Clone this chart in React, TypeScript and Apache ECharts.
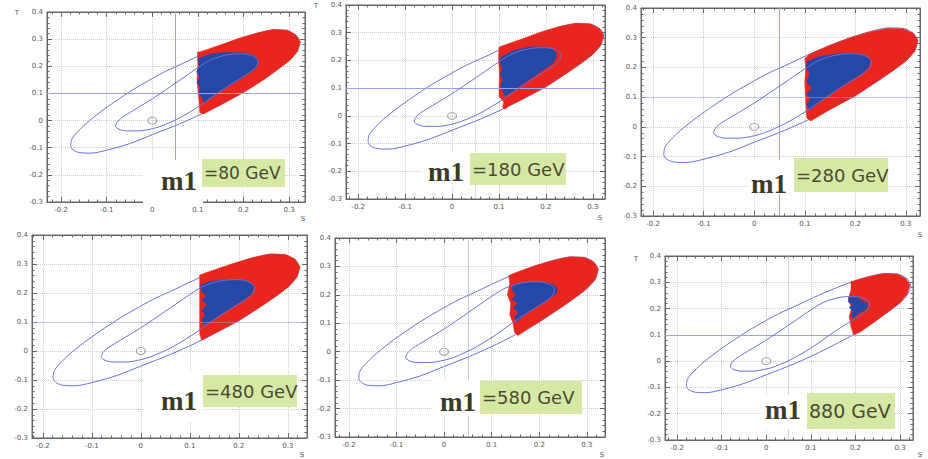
import React, { useEffect, useRef } from "react";
import * as echarts from "echarts";

// ---------- data ----------
const sTickValues = [-0.2, -0.1, 0, 0.1, 0.2, 0.3];
const tMin = -0.3;
const tMax = 0.4;
const tStep = 0.1;

const massPrefix = "m1";
const massLabels = ["=80 GeV", "=180 GeV", "=280 GeV", "=480 GeV", "=580 GeV", "880 GeV"];

// outer (95% CL) contour in the S-T plane
const outerContour: number[][] = [
  [-0.179, -0.095], [-0.177, -0.07], [-0.166, -0.045], [-0.146, -0.012], [-0.115, 0.03],
  [-0.08, 0.072], [-0.042, 0.114], [0.0, 0.155], [0.031, 0.183], [0.07, 0.213],
  [0.106, 0.242], [0.15, 0.274], [0.19, 0.3], [0.23, 0.321], [0.265, 0.333],
  [0.295, 0.331], [0.315, 0.314], [0.323, 0.29], [0.317, 0.255], [0.3, 0.222],
  [0.275, 0.19], [0.245, 0.155], [0.2, 0.105], [0.15, 0.06], [0.11, 0.026],
  [0.06, -0.012], [0.0, -0.052], [-0.05, -0.085], [-0.1, -0.109], [-0.135, -0.12],
  [-0.16, -0.118], [-0.174, -0.108], [-0.179, -0.095],
];

// inner (68% CL) contour
const innerContour: number[][] = [
  [-0.081, -0.022], [-0.077, -0.005], [-0.066, 0.012], [-0.042, 0.037], [0.0, 0.08],
  [0.031, 0.115], [0.07, 0.16], [0.1, 0.195], [0.13, 0.225], [0.17, 0.244],
  [0.2, 0.246], [0.222, 0.237], [0.232, 0.221], [0.229, 0.2], [0.217, 0.181],
  [0.19, 0.152], [0.16, 0.12], [0.13, 0.085], [0.104, 0.054], [0.06, 0.01],
  [0.02, -0.02], [0.0, -0.03], [-0.03, -0.038], [-0.057, -0.038], [-0.073, -0.032],
  [-0.081, -0.022],
];

const smPoint: number[][] = [[0, 0]];
const centralS = 0.05;
const centralT = 0.1;

// allowed model points (red) for each m1
const redRegion80: number[][] = [
  [0.099, 0.252], [0.106, 0.254], [0.15, 0.279], [0.19, 0.303], [0.23, 0.323], [0.265, 0.336],
  [0.295, 0.334], [0.315, 0.316], [0.325, 0.29], [0.319, 0.255], [0.302, 0.222], [0.277, 0.19],
  [0.247, 0.153], [0.2, 0.103], [0.15, 0.057], [0.112, 0.024], [0.104, 0.03], [0.102, 0.08],
  [0.098, 0.15], [0.1, 0.2],
];
const redRegion180: number[][] = [
  [0.1, 0.248], [0.106, 0.252], [0.15, 0.278], [0.19, 0.303], [0.23, 0.323], [0.265, 0.334],
  [0.295, 0.331], [0.315, 0.314], [0.323, 0.29], [0.317, 0.255], [0.3, 0.222], [0.275, 0.19],
  [0.245, 0.155], [0.2, 0.105], [0.15, 0.06], [0.12, 0.035], [0.113, 0.024], [0.108, 0.03],
  [0.11, 0.05], [0.1, 0.07], [0.101, 0.15], [0.099, 0.21],
];
const redRegion280: number[][] = [
  [0.1, 0.23], [0.11, 0.245], [0.15, 0.275], [0.19, 0.3], [0.23, 0.32], [0.265, 0.332],
  [0.295, 0.33], [0.315, 0.315], [0.324, 0.29], [0.318, 0.255], [0.3, 0.222], [0.275, 0.19],
  [0.245, 0.155], [0.2, 0.105], [0.15, 0.058], [0.112, 0.02], [0.104, 0.03], [0.102, 0.08],
  [0.1, 0.15], [0.102, 0.2],
];
const redRegion480: number[][] = [
  [0.12, 0.262], [0.15, 0.28], [0.19, 0.303], [0.23, 0.323], [0.265, 0.335], [0.295, 0.333],
  [0.315, 0.316], [0.325, 0.29], [0.319, 0.255], [0.302, 0.222], [0.277, 0.19], [0.247, 0.155],
  [0.2, 0.105], [0.15, 0.06], [0.124, 0.037], [0.12, 0.06], [0.12, 0.15], [0.12, 0.22],
];
const redRegion580: number[][] = [
  [0.136, 0.268], [0.15, 0.278], [0.19, 0.302], [0.23, 0.322], [0.265, 0.334], [0.295, 0.332],
  [0.315, 0.315], [0.324, 0.29], [0.318, 0.255], [0.3, 0.222], [0.275, 0.19], [0.245, 0.155],
  [0.2, 0.105], [0.155, 0.057], [0.148, 0.068], [0.145, 0.1], [0.138, 0.13], [0.14, 0.17],
  [0.133, 0.2], [0.138, 0.24],
];
const redRegion880: number[][] = [
  [0.19, 0.302], [0.23, 0.322], [0.265, 0.333], [0.295, 0.331], [0.313, 0.314], [0.322, 0.29],
  [0.316, 0.255], [0.3, 0.222], [0.275, 0.19], [0.245, 0.152], [0.21, 0.11], [0.196, 0.1],
  [0.19, 0.13], [0.186, 0.17], [0.191, 0.2], [0.184, 0.24], [0.19, 0.27],
];

// allowed model points inside the inner contour (blue)
const blueRegion80: number[][] = [
  [0.1, 0.228], [0.13, 0.246], [0.17, 0.252], [0.2, 0.25], [0.215, 0.245], [0.226, 0.236],
  [0.232, 0.222], [0.23, 0.2], [0.218, 0.18], [0.19, 0.15], [0.16, 0.118], [0.13, 0.085],
  [0.113, 0.067], [0.108, 0.09], [0.1, 0.1], [0.106, 0.12], [0.098, 0.14], [0.104, 0.16],
  [0.097, 0.18], [0.103, 0.2],
];
const blueRegion180: number[][] = [
  [0.103, 0.21], [0.13, 0.235], [0.17, 0.25], [0.2, 0.248], [0.214, 0.24], [0.222, 0.228],
  [0.222, 0.21], [0.215, 0.19], [0.19, 0.16], [0.16, 0.125], [0.13, 0.09], [0.113, 0.07],
  [0.108, 0.09], [0.103, 0.11], [0.109, 0.13], [0.102, 0.15], [0.108, 0.17], [0.102, 0.19],
];
const blueRegion280: number[][] = [
  [0.105, 0.22], [0.13, 0.237], [0.17, 0.248], [0.2, 0.247], [0.216, 0.242], [0.227, 0.232],
  [0.23, 0.218], [0.226, 0.2], [0.212, 0.178], [0.19, 0.155], [0.16, 0.12], [0.13, 0.085],
  [0.11, 0.057], [0.104, 0.075], [0.112, 0.095], [0.103, 0.11], [0.115, 0.13], [0.104, 0.15],
  [0.11, 0.18], [0.102, 0.2],
];
const blueRegion480: number[][] = [
  [0.122, 0.227], [0.14, 0.24], [0.17, 0.246], [0.2, 0.246], [0.215, 0.242], [0.226, 0.233],
  [0.231, 0.22], [0.227, 0.2], [0.214, 0.18], [0.19, 0.155], [0.16, 0.122], [0.135, 0.095],
  [0.128, 0.09], [0.125, 0.11], [0.132, 0.125], [0.124, 0.14], [0.135, 0.16], [0.125, 0.175],
  [0.133, 0.19], [0.124, 0.205],
];
const blueRegion580: number[][] = [
  [0.145, 0.235], [0.17, 0.245], [0.2, 0.246], [0.222, 0.24], [0.233, 0.233], [0.238, 0.22],
  [0.235, 0.203], [0.22, 0.185], [0.19, 0.155], [0.165, 0.125], [0.152, 0.104], [0.148, 0.12],
  [0.156, 0.14], [0.145, 0.155], [0.155, 0.17], [0.143, 0.185], [0.152, 0.2], [0.143, 0.215],
];
const blueRegion880: number[][] = [
  [0.185, 0.24], [0.205, 0.242], [0.213, 0.232], [0.225, 0.222], [0.228, 0.21], [0.222, 0.195],
  [0.205, 0.18], [0.198, 0.165], [0.19, 0.17], [0.194, 0.19], [0.186, 0.205], [0.195, 0.215],
  [0.184, 0.225],
];

const redRegions = [redRegion80, redRegion180, redRegion280, redRegion480, redRegion580, redRegion880];
const blueRegions = [blueRegion80, blueRegion180, blueRegion280, blueRegion480, blueRegion580, blueRegion880];

// ---------- layout (pixels) ----------
type Panel = {
  grid: { left: number; top: number; width: number; height: number };
  sMin: number;
  sMax: number;
  white: number[];
  green: number[];
  m1: number[];
  textSize: number;
  tName?: number[];
  sName?: number[];
  vLine: number; // opacity of central S line
  hLine: number; // opacity of central T line
};

const panels: Panel[] = [
  { grid: { left: 47, top: 12, width: 258, height: 190 }, sMin: -0.231, sMax: 0.335, white: [143, 160, 60, 44], green: [202, 159, 83, 28], m1: [161, 181], textSize: 17, tName: [17, 13], sName: [303, 219], vLine: 1, hLine: 1 },
  { grid: { left: 346, top: 5, width: 259, height: 194 }, sMin: -0.226, sMax: 0.326, white: [422, 153, 48, 34], green: [470, 153, 96, 32], m1: [428, 172], textSize: 18, tName: [316, 6], sName: [600, 218], vLine: 0.35, hLine: 1 },
  { grid: { left: 641, top: 8, width: 279, height: 208 }, sMin: -0.224, sMax: 0.328, white: [748, 160, 46, 34], green: [794, 158, 94, 34], m1: [751, 184], textSize: 18, sName: [920, 235], vLine: 1, hLine: 0.5 },
  { grid: { left: 32, top: 235, width: 275, height: 203 }, sMin: -0.222, sMax: 0.339, white: [143, 372, 60, 50], green: [203, 375, 94, 32], m1: [161, 401], textSize: 18, sName: [302, 455], vLine: 0, hLine: 0.5 },
  { grid: { left: 335, top: 238, width: 270, height: 199 }, sMin: -0.229, sMax: 0.338, white: [432, 380, 48, 36], green: [480, 381, 102, 33], m1: [440, 402], textSize: 18, sName: [602, 455], vLine: 0.6, hLine: 0 },
  { grid: { left: 665, top: 256, width: 248, height: 184 }, sMin: -0.227, sMax: 0.329, white: [762, 395, 45, 34], green: [807, 393, 88, 36], m1: [765, 410], textSize: 19, tName: [636, 259], sName: [920, 455], vLine: 0.5, hLine: 1 },
];

const axisColor = "#666";
const labelColor = "#555";
const gridLineColor = "#cdcdcd";
const contourColor = "#6c71d4";
const redColor = "#e8261e";
const blueColor = "#2548a6";
const centralColor = "#9ea2e8";

function polygonSeries(idx: number, pts: number[][], color: string, z: number) {
  return {
    type: "custom",
    xAxisIndex: idx,
    yAxisIndex: idx,
    z,
    silent: true,
    clip: true,
    data: [pts[0]],
    renderItem: (_params: any, api: any) => ({
      type: "polygon",
      shape: { points: pts.map((p) => api.coord(p)) },
      style: { fill: color, stroke: color, lineWidth: 0.5 },
    }),
  };
}

function buildOption() {
  const grid: any[] = [];
  const xAxis: any[] = [];
  const yAxis: any[] = [];
  const series: any[] = [];
  const graphic: any[] = [];

  panels.forEach((p, i) => {
    grid.push({ ...p.grid, show: true, borderColor: axisColor, borderWidth: 1, backgroundColor: "#fff" });
    xAxis.push({
      type: "value",
      gridIndex: i,
      min: p.sMin,
      max: p.sMax,
      axisLine: { show: true, onZero: false, lineStyle: { color: axisColor, width: 1 } },
      axisTick: { show: true, inside: true, length: 5, customValues: sTickValues, lineStyle: { color: axisColor } },
      minorTick: { show: true, splitNumber: 5, length: 2.5, lineStyle: { color: axisColor } },
      axisLabel: { customValues: sTickValues, fontSize: 7, color: labelColor, margin: 4, fontFamily: "DejaVu Sans" },
      splitLine: { show: true, lineStyle: { color: gridLineColor, type: "dotted", width: 1 } },
    });
    yAxis.push({
      type: "value",
      gridIndex: i,
      min: tMin,
      max: tMax,
      interval: tStep,
      axisLine: { show: true, onZero: false, lineStyle: { color: axisColor, width: 1 } },
      axisTick: { show: true, inside: true, length: 5, lineStyle: { color: axisColor } },
      minorTick: { show: true, splitNumber: 5, length: 2.5, lineStyle: { color: axisColor } },
      axisLabel: { fontSize: 7, color: labelColor, margin: 4, fontFamily: "DejaVu Sans" },
      splitLine: { show: true, lineStyle: { color: gridLineColor, type: "dotted", width: 1 } },
    });
  });
  // mirrored tick axes on top / right (ROOT frame style)
  panels.forEach((p, i) => {
    xAxis.push({
      type: "value",
      gridIndex: i,
      position: "top",
      min: p.sMin,
      max: p.sMax,
      axisLine: { show: true, onZero: false, lineStyle: { color: axisColor } },
      axisTick: { show: true, inside: true, length: 5, customValues: sTickValues, lineStyle: { color: axisColor } },
      minorTick: { show: true, splitNumber: 5, length: 2.5, lineStyle: { color: axisColor } },
      axisLabel: { show: false },
      splitLine: { show: false },
    });
    yAxis.push({
      type: "value",
      gridIndex: i,
      position: "right",
      min: tMin,
      max: tMax,
      interval: tStep,
      axisLine: { show: true, onZero: false, lineStyle: { color: axisColor } },
      axisTick: { show: true, inside: true, length: 5, lineStyle: { color: axisColor } },
      minorTick: { show: true, splitNumber: 5, length: 2.5, lineStyle: { color: axisColor } },
      axisLabel: { show: false },
      splitLine: { show: false },
    });
  });

  panels.forEach((p, i) => {
    const mlData: any[] = [];
    if (p.vLine > 0) mlData.push({ xAxis: centralS, lineStyle: { color: centralColor, width: 1, type: "solid", opacity: p.vLine } });
    if (p.hLine > 0) mlData.push({ yAxis: centralT, lineStyle: { color: centralColor, width: 1, type: "solid", opacity: p.hLine } });
    series.push({
      type: "line",
      xAxisIndex: i,
      yAxisIndex: i,
      data: outerContour,
      smooth: 0.3,
      symbol: "none",
      z: 2,
      silent: true,
      lineStyle: { color: contourColor, width: 1 },
      markLine: { silent: true, symbol: ["none", "none"], label: { show: false }, data: mlData },
    });
    series.push(polygonSeries(i, redRegions[i], redColor, 3));
    series.push(polygonSeries(i, blueRegions[i], blueColor, 4));
    series.push({
      type: "line",
      xAxisIndex: i,
      yAxisIndex: i,
      data: innerContour,
      smooth: 0.3,
      symbol: "none",
      z: 5,
      silent: true,
      lineStyle: { color: contourColor, width: 1 },
    });
    series.push({
      type: "scatter",
      xAxisIndex: i,
      yAxisIndex: i,
      data: smPoint,
      symbol: "circle",
      symbolSize: [9, 7],
      z: 6,
      silent: true,
      itemStyle: { color: "rgba(255,255,255,0)", borderColor: "#8a8a8a", borderWidth: 1 },
    });

    const [wx, wy, ww, wh] = p.white;
    const [gx, gy, gw, gh] = p.green;
    graphic.push({ type: "rect", z: 100, shape: { x: wx, y: wy, width: ww, height: wh }, style: { fill: "#ffffff" } });
    graphic.push({ type: "rect", z: 101, shape: { x: gx, y: gy, width: gw, height: gh }, style: { fill: "#d6e9a4" } });
    graphic.push({
      type: "text",
      z: 102,
      x: p.m1[0],
      y: p.m1[1],
      style: { text: massPrefix, fontSize: 27, fontFamily: "Liberation Serif", fontWeight: "bold", fill: "#3b3a26", verticalAlign: "middle", align: "left" },
    });
    graphic.push({
      type: "text",
      z: 102,
      x: gx + 2,
      y: gy + gh / 2,
      style: { text: massLabels[i], fontSize: p.textSize, fontFamily: "DejaVu Sans", fill: "#4b4b33", verticalAlign: "middle", align: "left" },
    });
    if (p.tName) {
      graphic.push({ type: "text", z: 102, x: p.tName[0], y: p.tName[1], style: { text: "T", fontSize: 7, fontFamily: "DejaVu Sans", fill: labelColor, verticalAlign: "middle", align: "center" } });
    }
    if (p.sName) {
      graphic.push({ type: "text", z: 102, x: p.sName[0], y: p.sName[1], style: { text: "S", fontSize: 7, fontFamily: "DejaVu Sans", fill: labelColor, verticalAlign: "middle", align: "center" } });
    }
  });

  return {
    animation: false,
    backgroundColor: "#ffffff",
    grid,
    xAxis,
    yAxis,
    series,
    graphic: { elements: graphic },
  };
}

export default function App() {
  const ref = useRef<HTMLDivElement>(null);
  useEffect(() => {
    document.body.style.margin = "0";
    if (!ref.current) return;
    const chart = echarts.init(ref.current, undefined, { renderer: "svg" });
    chart.setOption(buildOption() as any);
    return () => chart.dispose();
  }, []);
  return <div ref={ref} style={{ width: 928, height: 459 }} />;
}
